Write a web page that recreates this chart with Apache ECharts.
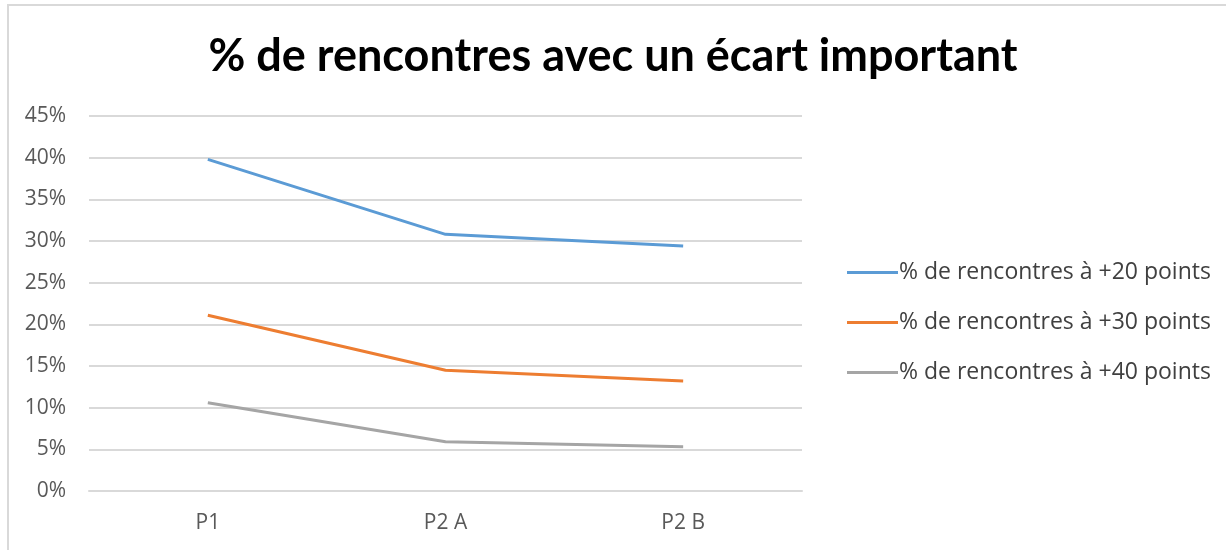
<!DOCTYPE html>
<html>
<head>
<meta charset="utf-8">
<script src="https://cdn.jsdelivr.net/npm/echarts@6/dist/echarts.min.js"></script>
<style>
  html, body { margin: 0; padding: 0; background: #fff; }
  #frame { position: absolute; left: 7px; top: 4px; width: 1226px; height: 550px; border-left: 2px solid #d9d9d9; border-top: 2px solid #d9d9d9; box-sizing: border-box; }
  #chart { width: 1226px; height: 550px; }
</style>
</head>
<body>
<div id="frame"></div>
<div id="chart"></div>
<script>
const categories = ['P1', 'P2 A', 'P2 B'];
const seriesNames = [
  '% de rencontres à +20 points',
  '% de rencontres à +30 points',
  '% de rencontres à +40 points',
];
const plus20 = [39.8, 30.8, 29.4];
const plus30 = [21.1, 14.5, 13.2];
const plus40 = [10.6, 5.9, 5.3];
const colors = ['#5b9bd5', '#ed7d31', '#a5a5a5'];

const chart = echarts.init(document.getElementById('chart'), null, { renderer: 'canvas' });

function lineSeries(name, data, color) {
  return {
    name: name,
    type: 'line',
    data: data,
    color: color,
    symbol: 'none',
    lineStyle: { width: 3, color: color },
  };
}

chart.setOption({
  animation: false,
  title: {
    text: '% de rencontres avec un écart important',
    left: 'center',
    top: 29,
    textStyle: { fontFamily: 'Lato', fontWeight: 'bold', fontSize: 45, color: '#000' },
  },
  legend: {
    orient: 'vertical',
    left: 842,
    top: 256,
    itemWidth: 51,
    itemHeight: 3,
    itemGap: 27,
    icon: 'rect',
    textStyle: { fontFamily: 'Open Sans', fontSize: 23, color: '#404040', padding: [0, 0, 0, -4] },
    data: seriesNames,
  },
  grid: { left: 89, right: 424, top: 116, bottom: 59 },
  xAxis: {
    type: 'category',
    boundaryGap: true,
    data: categories,
    axisLine: { show: true, lineStyle: { color: '#d9d9d9', width: 2 } },
    axisTick: { show: false },
    axisLabel: { margin: 22, fontFamily: 'Open Sans', fontSize: 21, color: '#595959' },
  },
  yAxis: {
    type: 'value',
    min: 0,
    max: 45,
    interval: 5,
    axisLine: { show: false },
    axisTick: { show: false },
    splitLine: { lineStyle: { color: '#d9d9d9', width: 2 } },
    axisLabel: {
      margin: 23,
      fontFamily: 'Open Sans',
      fontSize: 21,
      color: '#595959',
      formatter: (v) => v + '%',
    },
  },
  series: [
    lineSeries(seriesNames[0], plus20, colors[0]),
    lineSeries(seriesNames[1], plus30, colors[1]),
    lineSeries(seriesNames[2], plus40, colors[2]),
  ],
});
</script>
</body>
</html>
